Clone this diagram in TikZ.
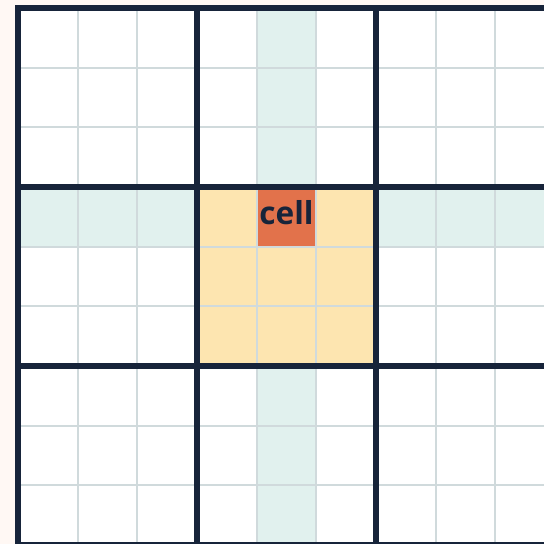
\documentclass[tikz,border=0pt]{standalone}
\usepackage{fontspec}
\newfontfamily\cellfont{Open Sans}

\definecolor{paper}{HTML}{FFF8F4}
\definecolor{navy}{HTML}{17243A}
\definecolor{gridgrey}{HTML}{D0DADC}
\definecolor{peer}{HTML}{E1F1EE}
\definecolor{boxfill}{HTML}{FDE5B0}
\definecolor{cellfill}{HTML}{E2724B}

\begin{document}
\begin{tikzpicture}[x=59.67pt, y=-59.67pt,
    thinline/.style={draw=gridgrey, line width=2pt},
    thickline/.style={draw=navy, line width=6pt, line cap=rect},
    cellbox/.style={fill=cellfill, minimum size=59.67pt, inner sep=0pt,
        text=navy, font=\cellfont\bfseries\fontsize{31.6}{36}\selectfont,
        text height=24pt, text depth=8pt}]
    \def\gridsize{9}

    % page and clip
    \useasboundingbox (-18pt,8pt) rectangle (526pt,-536pt);
    \fill[paper] (-18pt,8pt) rectangle (526pt,-536pt);
    \clip (-18pt,8pt) rectangle (526pt,-536pt);

    % Draw the board
    \fill[white] (0,0) rectangle (\gridsize,\gridsize);

    % row, column and box of the cell
    \fill[peer] (0,3) rectangle (\gridsize,4);
    \fill[peer] (4,0) rectangle (5,\gridsize);
    \fill[boxfill] (3,3) rectangle (6,6);

    \node[cellbox] (cell) at (4.5,3.5) {cell};

    % thin lines
    \foreach \i in {1,...,8} {
        \draw[thinline] (\i,0) -- (\i,\gridsize);
        \draw[thinline] (0,\i) -- (\gridsize,\i);
    }

    % thick lines
    \foreach \i in {0,3,6,9} {
        \draw[thickline] (\i,0) -- (\i,\gridsize);
        \draw[thickline] (0,\i) -- (\gridsize,\i);
    }
\end{tikzpicture}
\end{document}
